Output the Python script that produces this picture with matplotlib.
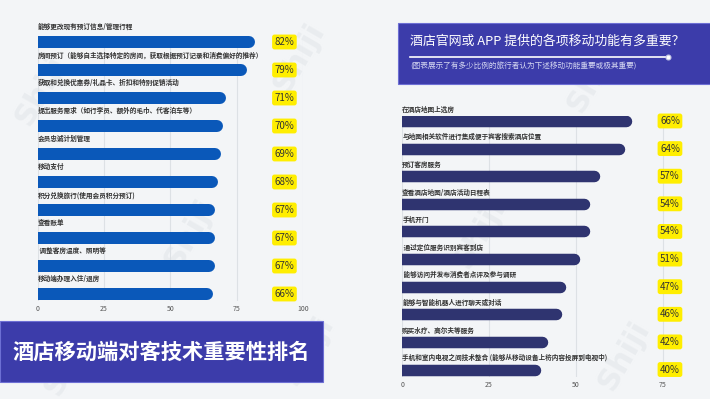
import matplotlib
matplotlib.use("Agg")
import matplotlib.pyplot as plt
from matplotlib.patches import Rectangle

plt.rcParams['font.family'] = ['Noto Sans CJK SC', 'DejaVu Sans']

# left chart: 酒店移动端对客技术重要性排名
left_labels = [
    '能够更改现有预订信息/管理行程',
    '房间预订（能够自主选择特定的房间，获取根据预订记录和消费偏好的推荐）',
    '获取和兑换优惠券/礼品卡、折扣和特别促销活动',
    '提出服务需求（如行李员、额外的毛巾、代客泊车等）',
    '会员忠诚计划管理',
    '移动支付',
    '积分兑换旅行(使用会员积分预订)',
    '查看账单',
    ' 调整客房温度、照明等',
    '移动端办理入住/退房',
]
left_values = [82, 79, 71, 70, 69, 68, 67, 67, 67, 66]
left_ticks = [0, 25, 50, 75, 100]

# right chart: 酒店官网或 APP 提供的各项移动功能
right_labels = [
    '在酒店地图上选房',
    '与地图相关软件进行集成便于宾客搜索酒店位置',
    '预订客房服务',
    '查看酒店地图/酒店活动日程表',
    '手机开门',
    ' 通过定位服务识别宾客到店',
    ' 能够访问并发布消费者点评及参与调研',
    '能够与智能机器人进行聊天或对话',
    '购买水疗、高尔夫等服务',
    '手机和室内电视之间技术整合 (能够从移动设备上将内容投屏到电视中)',
]
right_values = [66, 64, 57, 54, 54, 51, 47, 46, 42, 40]
right_ticks = [0, 25, 50, 75]

bg = '#f3f5f7'
fig = plt.figure(figsize=(7.1, 3.99), dpi=100, facecolor=bg)

# faint watermarks on a background layer
axbg = fig.add_axes([0, 0, 1, 1], zorder=-5)
axbg.set_xlim(0, 710)
axbg.set_ylim(399, 0)
axbg.axis('off')
for wx, wy in [(41, 90), (299, 57), (190, 233), (308, 350), (70, 360),
               (593, 77), (480, 233), (624, 355)]:
    axbg.text(wx, wy, 'Shiji', fontsize=22, fontweight='bold',
              color='#e9ecef', rotation=60, ha='center', va='center',
              family='DejaVu Sans')


def draw_bars(ax, labels, values, color, px_per_unit, bar_px, lab_off, pct_x, xmax):
    ax.set_facecolor('none')
    cap = bar_px / 2 / px_per_unit
    lw = bar_px * 72 / 100
    for i, (lab, v) in enumerate(zip(labels, values)):
        ax.plot([-5, v - cap], [i, i], color=color, lw=lw,
                solid_capstyle='round', zorder=3)
        ax.text(0, i - lab_off, lab, fontsize=4.8, color='#333333',
                fontweight='bold', va='center', ha='left')
        ax.text(pct_x, i, f'{v}%', fontsize=7, color='#333333',
                ha='center', va='center',
                bbox=dict(boxstyle='round,pad=0.25', fc='#ffee00', ec='none'))
    ax.set_xlim(0, xmax)
    ax.grid(axis='x', color='#dde1e5', lw=0.8, zorder=0)
    ax.set_axisbelow(True)
    ax.set_yticks([])
    for s in ax.spines.values():
        s.set_visible(False)
    ax.tick_params(axis='x', length=0, labelsize=5, labelcolor='#555555', pad=3)


# left panel
axl = fig.add_axes([37.5 / 710, 1 - 301 / 399, 265.5 / 710, 265 / 399])
draw_bars(axl, left_labels, left_values, '#0a58b9', 2.655, 12, 0.54, 93, 100)
axl.set_xticks(left_ticks)
axl.set_ylim(9.25, -0.214)

# right panel
axr = fig.add_axes([402.3 / 710, 1 - 377 / 399, 305.5 / 710, 261 / 399])
draw_bars(axr, right_labels, right_values, '#2f3470', 3.472, 11.5, 0.43, 77.1, 88)
axr.set_xticks(right_ticks)
axr.set_ylim(9.27, -0.18)

# left title banner
fig.patches.append(Rectangle((0, 1 - 382 / 399), 323 / 710, 61 / 399,
                             transform=fig.transFigure, fc='#3c3caa',
                             ec='#6d6fd4', lw=0.8, zorder=1))
fig.text(12 / 710, 1 - 352 / 399, '酒店移动端对客技术重要性排名', color='white',
         fontsize=15.3, fontweight='bold', va='center', ha='left')

# right title banner
fig.patches.append(Rectangle((398 / 710, 1 - 84 / 399), 320 / 710, 61 / 399,
                             transform=fig.transFigure, fc='#3c3caa',
                             ec='#6d6fd4', lw=0.8, zorder=1))
fig.text(410 / 710, 1 - 41 / 399, '酒店官网或 APP 提供的各项移动功能有多重要？',
         color='white', fontsize=9.3, va='center', ha='left')
fig.add_artist(plt.Line2D([410 / 710, 668 / 710], [1 - 57 / 399, 1 - 57 / 399],
                          transform=fig.transFigure, color='white', lw=1.2))
fig.add_artist(plt.Line2D([668 / 710], [1 - 57 / 399], transform=fig.transFigure,
                          marker='o', ms=3.5, mfc='white', mec='#c8cbe8', mew=0.8))
fig.text(410 / 710, 1 - 67 / 399, '(图表展示了有多少比例的旅行者认为下述移动功能重要或极其重要)',
         color='#d6d8f2', fontsize=5.5, va='center', ha='left')

fig.savefig('out.png', dpi=100, facecolor=bg)
